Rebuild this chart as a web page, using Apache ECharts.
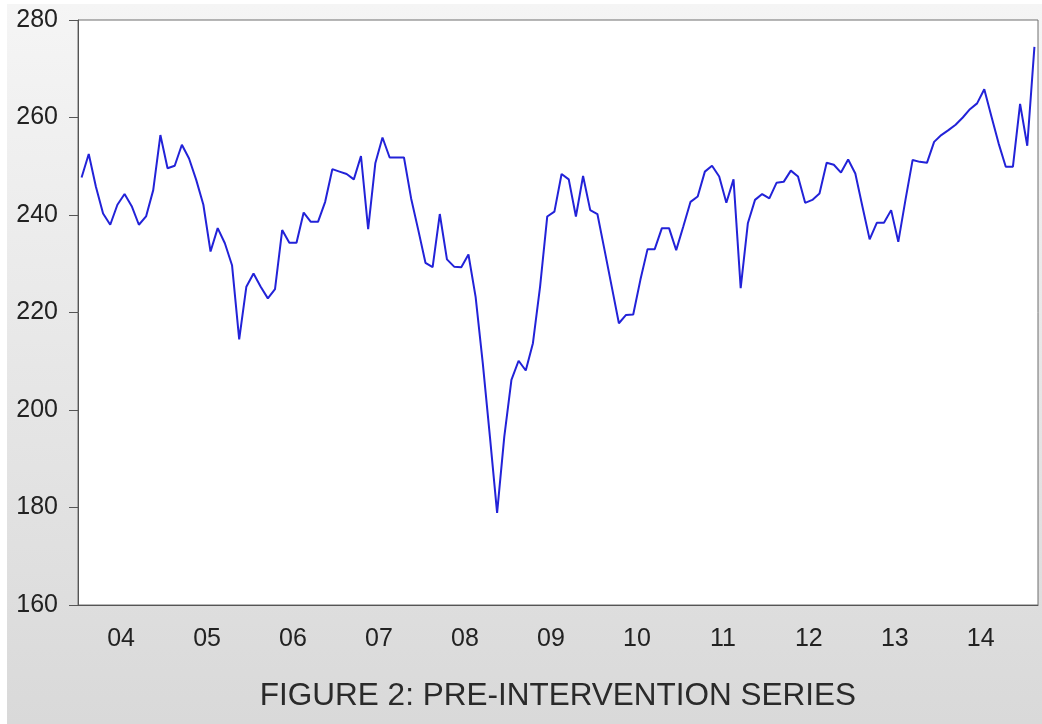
<!DOCTYPE html>
<html>
<head>
<meta charset="utf-8">
<script src="https://cdn.jsdelivr.net/npm/echarts@6/dist/echarts.min.js"></script>
<style>
  html, body { margin: 0; padding: 0; background: #fff; }
  #wrap { position: absolute; left: 7px; top: 4px; width: 1035px; height: 720px;
          background: linear-gradient(#f5f5f5, #d9d9d9); }
  #chart { position: absolute; left: 0; top: 0; width: 1042px; height: 724px; }
</style>
</head>
<body>
<div id="wrap"></div>
<div id="chart"></div>
<script>
// monthly observations, 2004M01 .. 2015M02
var startYear = 2004;
var months = [];
for (var k = 0; k < 134; k++) {
  var yr = startYear + Math.floor(k / 12);
  var mo = (k % 12) + 1;
  months.push(yr + "M" + (mo < 10 ? "0" + mo : mo));
}

var values2004_2006 = [
  247.7, 252.5, 245.8, 240.3, 238.0, 242.1, 244.3, 241.8, 238.0, 239.7, 245.1, 256.4,
  249.6, 250.1, 254.4, 251.6, 247.2, 242.1, 232.5, 237.3, 234.2, 229.7, 214.5, 225.3,
  228.0, 225.3, 222.9, 224.8, 236.9, 234.3, 234.3, 240.5, 238.6, 238.6, 242.7, 249.4
];
var values2007_2009 = [
  248.9, 248.4, 247.3, 252.1, 237.1, 250.6, 255.9, 251.8, 251.8, 251.8, 243.4, 236.9,
  230.2, 229.3, 240.2, 230.9, 229.4, 229.3, 231.9, 223.2, 209.6, 194.5, 178.9, 194.5,
  206.2, 210.1, 208.1, 213.7, 225.3, 239.7, 240.7, 248.4, 247.3, 239.7, 248.0, 241.0
];
var values2010_2012 = [
  240.2, 232.8, 225.3, 217.8, 219.5, 219.6, 226.7, 233.0, 233.0, 237.3, 237.3, 232.8,
  237.7, 242.7, 243.8, 248.9, 250.1, 247.9, 242.5, 247.3, 225.0, 238.3, 243.1, 244.3,
  243.4, 246.6, 246.8, 249.1, 247.9, 242.5, 243.1, 244.4, 250.7, 250.3, 248.7, 251.4
];
var values2013_2015 = [
  248.5, 241.7, 235.0, 238.4, 238.4, 241.0, 234.5, 243.1, 251.3, 250.9, 250.7, 255.0,
  256.4, 257.4, 258.5, 260.0, 261.7, 262.9, 265.8, 260.2, 254.7, 249.9, 249.9, 262.8,
  254.2, 274.5
];
var series = values2004_2006.concat(values2007_2009, values2010_2012, values2013_2015);

var yTicks = [160, 180, 200, 220, 240, 260, 280];
var title = "FIGURE 2: PRE-INTERVENTION SERIES";

var chart = echarts.init(document.getElementById("chart"));
chart.setOption({
  backgroundColor: "transparent",
  animation: false,
  textStyle: { fontFamily: "Liberation Sans, Arial, sans-serif" },
  grid: {
    left: 78, top: 20, right: 4, bottom: 119,
    show: true, backgroundColor: "#fff", borderColor: "#6e6e6e", borderWidth: 1
  },
  xAxis: [
    {
      type: "category",
      data: months,
      boundaryGap: true,
      axisLine: { lineStyle: { color: "#555", width: 1 } },
      axisTick: {
        interval: function (i) { return i % 3 === 0; },
        length: 7,
        lineStyle: { color: "#555" }
      },
      axisLabel: {
        interval: function (i) { return i % 12 === 6; },
        formatter: function (v) { return v.substr(2, 2); },
        fontSize: 25,
        color: "#222",
        margin: 22,
        padding: [0, 7, 0, 0]
      },
      splitLine: { show: false }
    },
    {
      type: "category",
      data: months,
      position: "bottom",
      boundaryGap: true,
      axisLine: { show: false },
      axisTick: {
        interval: function (i) { return i % 12 === 0; },
        length: 15,
        lineStyle: { color: "#555" }
      },
      axisLabel: { show: false },
      splitLine: { show: false }
    }
  ],
  yAxis: {
    type: "value",
    min: yTicks[0],
    max: yTicks[yTicks.length - 1],
    interval: 20,
    axisLine: { show: true, lineStyle: { color: "#555" } },
    axisTick: { show: true, length: 9, lineStyle: { color: "#555" } },
    axisLabel: { fontSize: 25, color: "#222", margin: 20 },
    splitLine: { show: false }
  },
  series: [{
    type: "line",
    data: series,
    showSymbol: false,
    lineStyle: { color: "#2222d8", width: 2 },
    itemStyle: { color: "#2222d8" }
  }],
  graphic: [{
    type: "text",
    x: 558,
    y: 696,
    style: {
      text: title,
      font: "31.5px Liberation Sans, Arial, sans-serif",
      fill: "#2a2a2a",
      align: "center",
      verticalAlign: "middle"
    }
  }]
});
</script>
</body>
</html>
